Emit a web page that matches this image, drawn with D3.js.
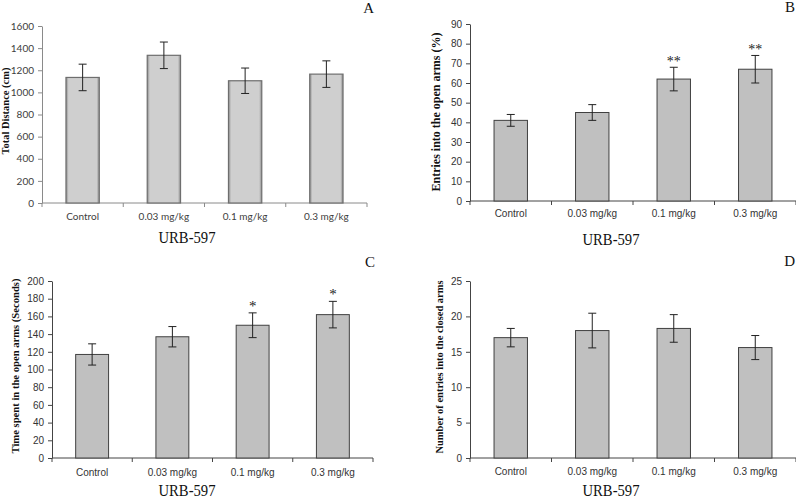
<!DOCTYPE html>
<html><head><meta charset="utf-8">
<script src="https://cdn.jsdelivr.net/npm/d3@7"></script>
<style>body{margin:0;background:#fff}svg{display:block}</style>
</head><body>
<svg id="chart" width="796" height="499"></svg>
<script>
const categories = ["Control", "0.03 mg/kg", "0.1 mg/kg", "0.3 mg/kg"];
const categoriesC = ["Control", "0.03 mg/kg", "0.1 mg/kg", "0.3  mg/kg"];

const distanceMean = [1135, 1335, 1105, 1165];
const distanceErr  = [120, 120, 115, 120];

const entriesOpenMean = [41, 45, 62, 67];
const entriesOpenErr  = [3, 4, 6, 7];
const entriesOpenSig  = ["", "", "**", "**"];

const timeOpenMean = [117, 137, 150, 162];
const timeOpenErr  = [12, 11.5, 14, 15];
const timeOpenSig  = ["", "", "*", "*"];

const entriesClosedMean = [17, 18, 18.3, 15.6];
const entriesClosedErr  = [1.3, 2.45, 1.95, 1.7];

const ticksA = [0,200,400,600,800,1000,1200,1400,1600];
const ticksB = [0,10,20,30,40,50,60,70,80,90];
const ticksC = [0,20,40,60,80,100,120,140,160,180,200];
const ticksD = [0,5,10,15,20,25];

const svg = d3.select("#chart");
const defs = svg.append("defs");
const grad = defs.append("linearGradient").attr("id","barA").attr("x1","0").attr("x2","1").attr("y1","0").attr("y2","0");
grad.append("stop").attr("offset","0%").attr("stop-color","#8c8c8c");
grad.append("stop").attr("offset","8%").attr("stop-color","#cfcfcf");
grad.append("stop").attr("offset","92%").attr("stop-color","#cfcfcf");
grad.append("stop").attr("offset","100%").attr("stop-color","#8c8c8c");

function panel(o){
  const g = svg.append("g");
  const x = d3.scaleBand().domain(o.cats).range([o.x0, o.x1]);
  const y = d3.scaleLinear().domain([0, o.max]).range([o.yb, o.yt]);
  const bw = x.bandwidth()*0.41;

  const ya = g.append("g").attr("transform",`translate(${o.x0},0)`)
    .call(d3.axisLeft(y).tickValues(o.ticks).tickFormat(d3.format("d")).tickSize(4).tickPadding(4).tickSizeOuter(0));
  ya.select(".domain").attr("stroke", o.axisColor);
  ya.selectAll(".tick line").attr("stroke", o.axisColor);
  ya.selectAll("text").attr("font-family", o.tickFont).attr("font-size", o.tickSize).attr("fill", o.tickColor);

  g.append("line").attr("x1",o.x0).attr("x2",o.x1).attr("y1",o.yb).attr("y2",o.yb).attr("stroke",o.axisColor);
  const bounds = o.cats.map(c=>x(c)).concat([o.x1]);
  g.selectAll(".xt").data(bounds).join("line")
    .attr("x1",d=>d).attr("x2",d=>d).attr("y1",o.yb).attr("y2",o.yb+4).attr("stroke",o.axisColor);
  g.selectAll(".xl").data(o.cats).join("text")
    .attr("x",d=>x(d)+x.bandwidth()/2).attr("y",o.catY)
    .attr("text-anchor","middle").attr("font-family",o.tickFont).attr("font-size",o.tickSize).attr("fill",o.tickColor)
    .text(d=>d);

  g.selectAll(".bar").data(o.mean).join("rect")
    .attr("x",(d,i)=>x(o.cats[i])+x.bandwidth()/2-bw/2)
    .attr("y",d=>y(d)).attr("width",bw).attr("height",d=>o.yb-y(d))
    .attr("fill",o.barFill).attr("stroke",o.barStroke).attr("stroke-width",o.barStrokeW);

  const eg = g.selectAll(".err").data(o.mean).join("g");
  eg.append("line")
    .attr("x1",(d,i)=>x(o.cats[i])+x.bandwidth()/2).attr("x2",(d,i)=>x(o.cats[i])+x.bandwidth()/2)
    .attr("y1",(d,i)=>y(d-o.err[i])).attr("y2",(d,i)=>y(d+o.err[i])).attr("stroke","#222").attr("stroke-width",1);
  [-1,1].forEach(s=>{
    eg.append("line")
      .attr("x1",(d,i)=>x(o.cats[i])+x.bandwidth()/2-4).attr("x2",(d,i)=>x(o.cats[i])+x.bandwidth()/2+4)
      .attr("y1",(d,i)=>y(d+s*o.err[i])).attr("y2",(d,i)=>y(d+s*o.err[i])).attr("stroke","#222").attr("stroke-width",1);
  });

  if(o.sig){
    g.selectAll(".sig").data(o.mean).join("text")
      .attr("x",(d,i)=>x(o.cats[i])+x.bandwidth()/2)
      .attr("y",(d,i)=>y(d+o.err[i])-o.sigGap)
      .attr("text-anchor","middle").attr("font-family","Liberation Serif").attr("font-size",o.sigSize).attr("fill","#222")
      .text((d,i)=>o.sig[i]);
  }

  g.append("text").attr("transform",`translate(${o.ylx},${o.yly}) rotate(-90)`)
    .attr("text-anchor","middle").attr("font-family","Liberation Serif").attr("font-weight","bold")
    .attr("font-size",o.ylSize).attr("fill","#111")
    .attr("textLength",o.ylLen).attr("lengthAdjust","spacingAndGlyphs").text(o.ylabel);

  g.append("text").attr("x",o.xtX).attr("y",o.xtY).attr("text-anchor","middle")
    .attr("font-family","Liberation Serif").attr("font-size",16).attr("fill","#111")
    .attr("textLength",57).attr("lengthAdjust","spacingAndGlyphs").text("URB-597");

  g.append("text").attr("x",o.lx).attr("y",o.ly).attr("text-anchor","end")
    .attr("font-family","Liberation Serif").attr("font-size",15).attr("fill","#111").text(o.letter);
}

panel({cats:categories, mean:distanceMean, err:distanceErr, ticks:ticksA, max:1600,
  x0:42, x1:367, yt:26, yb:203, catY:220,
  axisColor:"#8a8a8a", tickColor:"#404040", tickFont:"Lato", tickSize:10,
  barFill:"url(#barA)", barStroke:"#6e6e6e", barStrokeW:1.2,
  ylabel:"Total Distance (cm)", ylx:9, yly:111, ylSize:9.5, ylLen:87,
  xtX:187, xtY:243, letter:"A", lx:374, ly:13});

panel({cats:categories, mean:entriesOpenMean, err:entriesOpenErr, sig:entriesOpenSig, sigGap:1, sigSize:14, ticks:ticksB, max:90,
  x0:470, x1:796, yt:24, yb:201, catY:217,
  axisColor:"#444", tickColor:"#333", tickFont:"Liberation Sans", tickSize:10,
  barFill:"#c0c0c0", barStroke:"#404040", barStrokeW:1,
  ylabel:"Entries into the open arms (%)", ylx:440, yly:112, ylSize:12, ylLen:159,
  xtX:611, xtY:245, letter:"B", lx:795, ly:12});

panel({cats:categoriesC, mean:timeOpenMean, err:timeOpenErr, sig:timeOpenSig, sigGap:2, sigSize:15, ticks:ticksC, max:200,
  x0:52, x1:373, yt:281, yb:458, catY:476,
  axisColor:"#444", tickColor:"#333", tickFont:"Liberation Sans", tickSize:10,
  barFill:"#c0c0c0", barStroke:"#404040", barStrokeW:1,
  ylabel:"Time spent in the open arms (Seconds)", ylx:19, yly:366, ylSize:10.5, ylLen:175,
  xtX:187, xtY:496, letter:"C", lx:375, ly:267});

panel({cats:categories, mean:entriesClosedMean, err:entriesClosedErr, ticks:ticksD, max:25,
  x0:470, x1:796, yt:281, yb:458, catY:475,
  axisColor:"#444", tickColor:"#333", tickFont:"Liberation Sans", tickSize:10,
  barFill:"#c0c0c0", barStroke:"#404040", barStrokeW:1,
  ylabel:"Number of entries into the closed arms", ylx:443, yly:367, ylSize:10, ylLen:173,
  xtX:611, xtY:496, letter:"D", lx:795, ly:266});
</script>
</body></html>
